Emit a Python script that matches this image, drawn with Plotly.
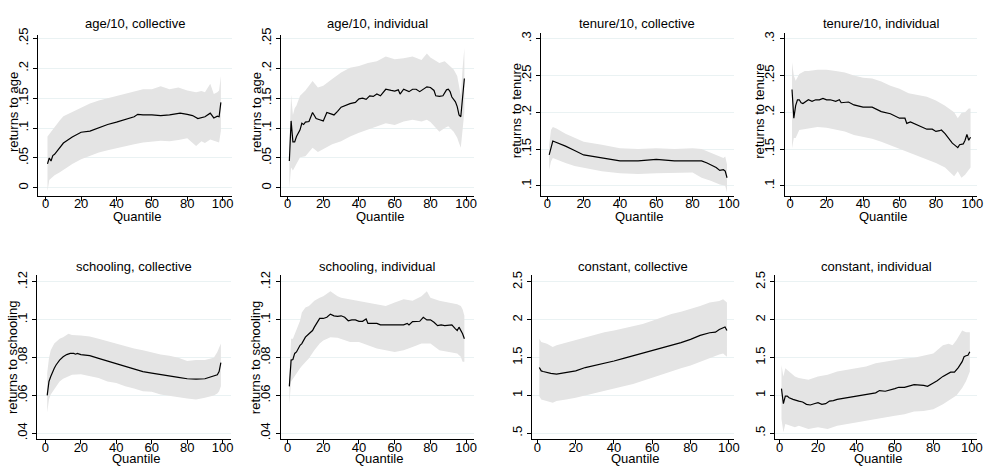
import plotly.graph_objects as go

# ---------------- data ----------------
age_col_q = [1,2,3,4,5,10,15,20,25,30,35,40,45,50,52,55,60,65,70,76,80,83,86,90,93,95,97,98,99]
age_col_b = [.040,.050,.045,.054,.056,.075,.085,.093,.095,.101,.106,.110,.115,.119,.123,.122,.122,.121,.122,.125,.123,.121,.116,.119,.125,.117,.120,.119,.143]
age_col_cq = [1,2,3,5,8,10,15,20,25,30,35,40,45,50,55,60,65,70,75,80,85,88,90,93,95,97,98,99]
age_col_hi = [.086,.090,.094,.103,.113,.120,.127,.135,.141,.146,.150,.154,.158,.161,.165,.165,.170,.165,.168,.163,.160,.162,.160,.174,.157,.160,.163,.187]
age_col_lo = [-.006,.013,.015,.021,.026,.029,.040,.048,.053,.059,.063,.067,.070,.073,.076,.078,.079,.078,.080,.083,.070,.078,.075,.081,.079,.077,.076,.095]

age_ind_q = [1,2,3,4,5,6,7,8,9,10,12,14,16,18,20,22,24,26,28,30,35,38,40,42,44,46,48,50,52,55,58,60,62,63,65,68,70,72,74,76,78,80,82,83,85,87,89,90,91,92,94,95,96,97,98,99]
age_ind_b = [.045,.112,.077,.077,.086,.092,.097,.108,.106,.110,.111,.126,.116,.114,.112,.126,.124,.122,.128,.135,.141,.143,.149,.150,.148,.154,.153,.157,.154,.165,.163,.162,.164,.157,.165,.161,.165,.165,.161,.165,.169,.168,.163,.154,.153,.154,.164,.165,.161,.152,.144,.136,.122,.119,.150,.183]
age_ind_cq = [1,2,3,4,5,7,10,14,17,20,25,30,35,40,45,50,55,60,65,70,75,78,80,85,88,90,93,95,96,97,98,99]
age_ind_hi = [.075,.156,.122,.133,.138,.154,.163,.179,.168,.171,.182,.193,.201,.204,.209,.212,.220,.215,.217,.220,.214,.225,.218,.209,.212,.206,.198,.187,.171,.154,.200,.234]
age_ind_lo = [.000,.034,.029,.032,.040,.051,.053,.067,.060,.064,.073,.078,.086,.092,.097,.103,.108,.105,.111,.114,.111,.114,.110,.094,.100,.103,.094,.084,.075,.067,.090,.127]

ten_col_q = [1,2,3,4,5,7,10,15,20,25,30,35,40,50,60,70,75,80,85,88,90,93,95,97,98,99]
ten_col_b = [.142,.151,.161,.160,.159,.158,.154,.148,.142,.140,.138,.137,.134,.134,.136,.134,.134,.135,.134,.131,.129,.125,.121,.122,.120,.111]
ten_col_cq = [1,2,3,5,10,15,20,30,40,50,60,70,80,85,90,95,97,98,99]
ten_col_hi = [.156,.176,.180,.178,.171,.165,.160,.156,.151,.150,.151,.150,.151,.150,.145,.140,.138,.140,.129]
ten_col_lo = [.122,.133,.138,.136,.131,.127,.125,.120,.117,.116,.117,.117,.118,.111,.107,.102,.101,.100,.091]

ten_ind_q = [1,2,3,4,5,6,7,8,10,12,14,16,18,20,22,25,27,28,30,32,35,40,45,47,50,55,60,63,64,66,70,72,75,78,80,82,83,85,87,89,91,92,93,95,96,97,98,99]
ten_ind_b = [.231,.192,.209,.217,.217,.213,.212,.214,.217,.215,.217,.217,.219,.217,.217,.215,.217,.213,.213,.214,.210,.207,.207,.205,.201,.198,.192,.192,.185,.187,.183,.181,.177,.177,.174,.175,.176,.171,.165,.158,.154,.152,.156,.157,.162,.170,.162,.166]
ten_ind_cq = [1,2,3,5,8,10,15,20,25,30,35,40,45,50,55,60,65,70,75,80,85,90,92,94,96,98,99]
ten_ind_hi = [.268,.250,.243,.252,.256,.256,.258,.258,.256,.254,.250,.247,.246,.242,.236,.232,.226,.224,.221,.216,.209,.200,.192,.199,.200,.205,.205]
ten_ind_lo = [.151,.165,.165,.176,.177,.178,.180,.179,.177,.174,.169,.167,.164,.160,.156,.150,.145,.140,.136,.131,.125,.113,.120,.111,.115,.122,.125]

sch_col_q = [1,2,3,4,5,6,7,8,10,12,14,16,17,18,20,25,30,35,40,45,50,55,60,65,70,75,80,85,90,92,95,97,98,99]
sch_col_b = [.0600,.0674,.0700,.0726,.0744,.0761,.0775,.0787,.0804,.0816,.0822,.0822,.0818,.0822,.0816,.0810,.0796,.0782,.0770,.0752,.0738,.0726,.0718,.0709,.0700,.0695,.0688,.0686,.0688,.0693,.0700,.0709,.0726,.0773]
sch_col_cq = [1,2,3,5,8,10,13,15,20,25,30,35,40,45,50,55,60,65,70,75,80,85,90,95,97,98,99]
sch_col_hi = [.0718,.0796,.0839,.0874,.0900,.0908,.0926,.0920,.0917,.0912,.0900,.0886,.0874,.0860,.0848,.0839,.0827,.0816,.0810,.0799,.0782,.0787,.0787,.0799,.0830,.0848,.0874]
sch_col_lo = [.0509,.0579,.0605,.0631,.0674,.0688,.0700,.0709,.0712,.0700,.0692,.0674,.0666,.0648,.0636,.0622,.0619,.0605,.0600,.0591,.0584,.0579,.0587,.0600,.0610,.0622,.0648]

sch_ind_q = [1,2,3,4,5,6,7,8,9,10,12,14,15,16,18,20,22,24,26,28,30,32,34,36,38,40,42,44,45,50,52,55,58,60,62,65,67,68,70,72,74,76,78,80,82,84,86,88,90,92,94,95,96,97,98,99]
sch_ind_b = [.0648,.0787,.0790,.0822,.0830,.0848,.0865,.0874,.0891,.0908,.0926,.0943,.0961,.0978,.1007,.1007,.1013,.1030,.1021,.1018,.1021,.1013,.0995,.0999,.0999,.0992,.0992,.1004,.0981,.0981,.0973,.0973,.0973,.0969,.0973,.0973,.0981,.0973,.0990,.0990,.0992,.1013,.0999,.1000,.0987,.0969,.0973,.0969,.0973,.0973,.0952,.0943,.0961,.0947,.0926,.0900]
sch_ind_cq = [1,2,3,5,7,8,10,12,15,18,20,24,28,30,35,40,45,50,55,60,65,70,75,78,80,85,90,95,97,98,99]
sch_ind_hi = [.0709,.0900,.0900,.0943,.0995,.1039,.1065,.1073,.1100,.1117,.1125,.1151,.1125,.1117,.1108,.1100,.1091,.1082,.1073,.1091,.1108,.1100,.1125,.1151,.1117,.1100,.1091,.1082,.1073,.1056,.1021]
sch_ind_lo = [.0553,.0674,.0692,.0718,.0744,.0755,.0778,.0796,.0839,.0874,.0891,.0908,.0905,.0900,.0882,.0882,.0865,.0848,.0839,.0830,.0839,.0856,.0874,.0874,.0874,.0839,.0830,.0822,.0804,.0778,.0778]

con_col_q = [1,2,3,5,7,10,15,20,25,30,35,40,45,50,55,60,65,70,75,80,85,90,93,95,97,98,99]
con_col_b = [1.368,1.324,1.316,1.303,1.290,1.281,1.303,1.324,1.368,1.394,1.424,1.454,1.489,1.524,1.554,1.598,1.628,1.663,1.697,1.741,1.793,1.828,1.836,1.871,1.901,1.905,1.858]
con_col_cq = [1,2,5,8,10,15,20,25,30,35,40,45,50,55,60,65,70,75,80,85,90,95,97,98,99]
con_col_hi = [1.749,1.706,1.684,1.641,1.663,1.697,1.728,1.771,1.801,1.836,1.858,1.888,1.923,1.945,1.988,2.031,2.075,2.105,2.140,2.183,2.227,2.248,2.270,2.250,2.227]
con_col_lo = [.990,.947,.925,.903,.925,.947,.968,.990,1.020,1.055,1.090,1.120,1.151,1.185,1.229,1.272,1.316,1.359,1.394,1.446,1.489,1.541,1.555,1.533,1.511]

con_ind_q = [1,2,3,4,5,7,10,12,14,16,18,20,22,24,26,28,30,35,40,45,50,52,55,60,62,65,70,75,77,80,82,85,87,89,91,93,95,96,97,98,99]
con_ind_b = [1.090,.890,.990,.990,.969,.947,.925,.912,.882,.873,.890,.903,.882,.890,.925,.930,.947,.969,.982,1.003,1.034,1.064,1.055,1.090,1.107,1.107,1.142,1.133,1.120,1.164,1.194,1.251,1.281,1.307,1.307,1.368,1.446,1.511,1.524,1.530,1.576]
con_ind_cq = [1,2,3,5,8,10,15,20,25,30,35,40,45,50,55,60,65,70,75,80,85,88,90,92,95,97,99]
con_ind_hi = [1.402,1.251,1.359,1.316,1.251,1.229,1.207,1.251,1.272,1.316,1.337,1.359,1.381,1.424,1.446,1.467,1.489,1.498,1.524,1.554,1.663,1.684,1.663,1.728,1.858,1.836,1.836]
con_ind_lo = [.687,.513,.621,.600,.578,.600,.556,.578,.556,.600,.621,.643,.665,.687,.708,.730,.752,.786,.795,.817,.882,.930,.969,1.000,1.099,1.186,1.316]

titles = ["age/10, collective", "age/10, individual", "tenure/10, collective", "tenure/10, individual",
          "schooling, collective", "schooling, individual", "constant, collective", "constant, individual"]
ytitles = ["returns to age", "returns to age", "returns to tenure", "returns to tenure",
           "returns to schooling", "returns to schooling", "", ""]
x_ticks = [0, 20, 40, 60, 80, 100]
age_ticks = [0, .05, .1, .15, .2, .25]
age_ticktext = ["0", ".05", ".1", ".15", ".2", ".25"]
ten_ticks = [.1, .15, .2, .25, .3]
ten_ticktext = [".1", ".15", ".2", ".25", ".3"]
sch_ticks = [.04, .06, .08, .1, .12]
sch_ticktext = [".04", ".06", ".08", ".1", ".12"]
con_ticks = [.5, 1, 1.5, 2, 2.5]
con_ticktext = [".5", "1", "1.5", "2", "2.5"]

panels = [
    (age_col_q, age_col_b, age_col_cq, age_col_hi, age_col_lo),
    (age_ind_q, age_ind_b, age_ind_cq, age_ind_hi, age_ind_lo),
    (ten_col_q, ten_col_b, ten_col_cq, ten_col_hi, ten_col_lo),
    (ten_ind_q, ten_ind_b, ten_ind_cq, ten_ind_hi, ten_ind_lo),
    (sch_col_q, sch_col_b, sch_col_cq, sch_col_hi, sch_col_lo),
    (sch_ind_q, sch_ind_b, sch_ind_cq, sch_ind_hi, sch_ind_lo),
    (con_col_q, con_col_b, con_col_cq, con_col_hi, con_col_lo),
    (con_ind_q, con_ind_b, con_ind_cq, con_ind_hi, con_ind_lo),
]
yticks = [(age_ticks, age_ticktext)] * 2 + [(ten_ticks, ten_ticktext)] * 2 + \
         [(sch_ticks, sch_ticktext)] * 2 + [(con_ticks, con_ticktext)] * 2

# ---------------- layout geometry (pixels) ----------------
W, H = 989, 468
# (left, right, top, bottom, px at x=0, px at x=100)
geom = [
    (38.0, 233.0, 28, 192, 46.0, 224.0),
    (282.7, 477.0, 28, 192, 289.3, 469.0),
    (544.3, 738.3, 26, 192, 550.7, 733.3),
    (789.3, 983.3, 26, 192, 795.0, 978.3),
    (37.7, 232.3, 273, 440, 45.7, 224.0),
    (282.3, 477.3, 273, 440, 289.3, 469.0),
    (535.0, 738.3, 273, 440, 540.7, 733.3),
    (780.0, 983.3, 273, 440, 784.3, 977.7),
]
yranges = [(-0.0132, 0.2566), (-0.0132, 0.2566), (0.0866, 0.3084), (0.0866, 0.3084),
           (0.0367, 0.1235), (0.0367, 0.1235), (0.417, 2.587), (0.417, 2.587)]

FONT = "Liberation Sans, Arial, sans-serif"
FS = 13
BAND = "#e4e4e4"
GRID = "rgb(234,242,243)"

fig = go.Figure()
layout = dict(width=W, height=H, margin=dict(l=0, r=0, t=0, b=0),
              paper_bgcolor="white", plot_bgcolor="white", showlegend=False,
              font=dict(family=FONT, size=FS, color="black"))
annotations = []

for i, ((q, b, cq, hi, lo), (L, R, T, B, p0, p100), yr, (tv, tt)) in enumerate(zip(panels, geom, yranges, yticks)):
    n = i + 1
    xa = "x" if n == 1 else f"x{n}"
    ya = "y" if n == 1 else f"y{n}"
    s = (p100 - p0) / 100.0
    xr = [(L - p0) / s, (R - p0) / s]
    fig.add_trace(go.Scatter(x=list(cq) + list(cq)[::-1], y=list(hi) + list(lo)[::-1],
                             fill="toself", fillcolor=BAND, line=dict(width=0, color=BAND),
                             mode="lines", hoverinfo="skip", xaxis=xa, yaxis=ya))
    fig.add_trace(go.Scatter(x=q, y=b, mode="lines", line=dict(color="black", width=1.2),
                             xaxis=xa, yaxis=ya))
    layout["xaxis" if n == 1 else f"xaxis{n}"] = dict(
        domain=[L / W, R / W], range=xr, anchor=ya, tickvals=x_ticks,
        showline=True, linecolor="black", linewidth=1, ticks="outside", ticklen=4,
        tickcolor="black", showgrid=False, zeroline=False, tickfont=dict(size=FS),
        ticklabelstandoff=-8, fixedrange=True)
    layout["yaxis" if n == 1 else f"yaxis{n}"] = dict(
        domain=[1 - B / H, 1 - T / H], range=list(yr), anchor=xa, tickvals=tv, ticktext=tt,
        tickangle=-90, showline=True, linecolor="black", linewidth=1, ticks="outside",
        ticklen=4, tickcolor="black", showgrid=True, gridcolor=GRID, gridwidth=1,
        zeroline=False, tickfont=dict(size=FS), fixedrange=True)
    cx = (L + R) / 2
    top_row = n <= 4
    annotations.append(dict(text=titles[i], x=cx / W, y=1 - (17 if top_row else 264) / H,
                            xref="paper", yref="paper", showarrow=False,
                            xanchor="center", yanchor="middle", font=dict(size=FS)))
    annotations.append(dict(text="Quantile", x=(cx + 2) / W, y=1 - (213 if top_row else 459) / H,
                            xref="paper", yref="paper", showarrow=False,
                            xanchor="center", yanchor="middle", font=dict(size=FS)))
    if ytitles[i]:
        annotations.append(dict(text=ytitles[i], x=(L - 25) / W,
                                y=1 - ((T + B) / 2 - (3 if top_row else 0)) / H,
                                xref="paper", yref="paper", showarrow=False, textangle=-90,
                                xanchor="center", yanchor="middle", font=dict(size=FS)))

layout["annotations"] = annotations
fig.update_layout(**layout)
fig.write_html("out.html")
